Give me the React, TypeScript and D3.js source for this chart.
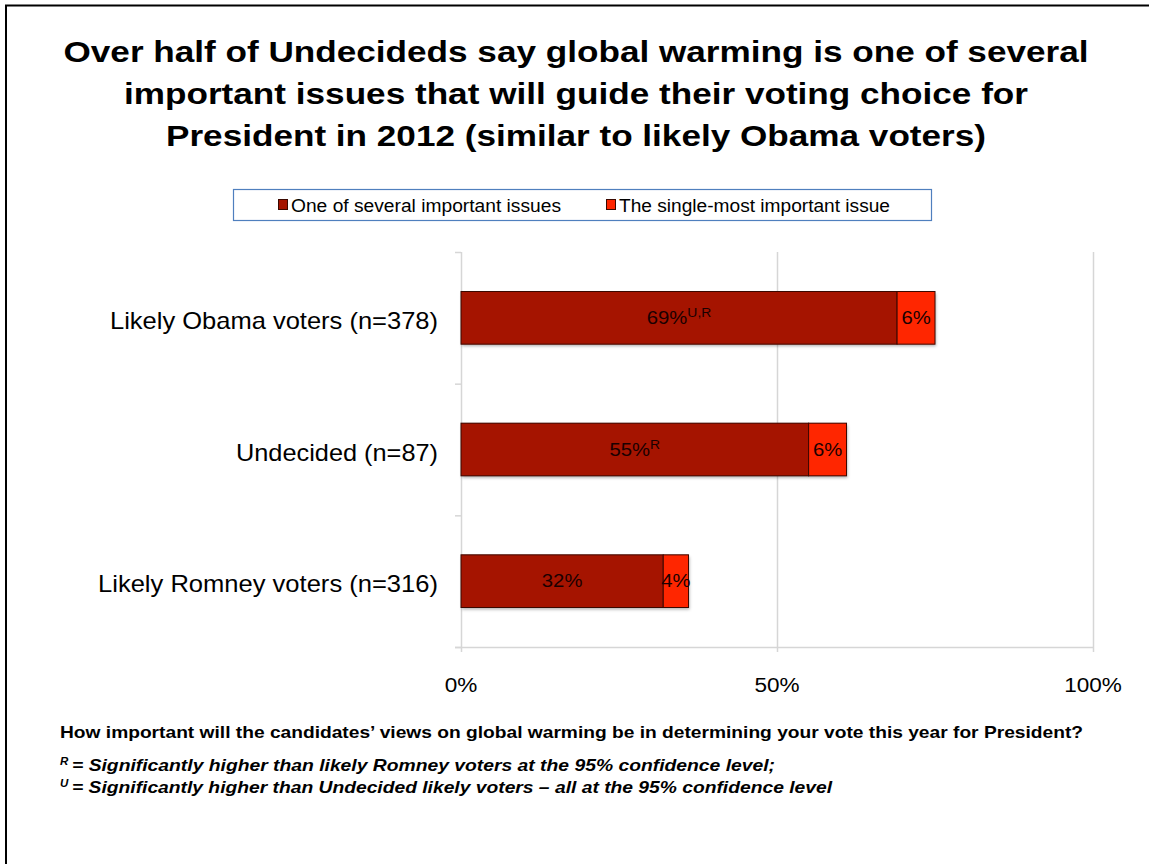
import React from "react";
import * as d3 from "d3";

const categories = ["Likely Obama voters (n=378)", "Undecided (n=87)", "Likely Romney voters (n=316)"];
const severalValues = [69, 55, 32];
const singleValues = [6, 6, 4];
const severalSup = ["U,R", "R", ""];
const seriesNames = ["One of several important issues", "The single-most important issue"];
const seriesColors = ["#A51400", "#FF2600"];
const xTicks = [0, 50, 100];
const titleLines = [
  "Over half of Undecideds say global warming is one of several",
  "important issues that will guide their voting choice for",
  "President in 2012 (similar to likely Obama voters)",
];
const questionText = "How important will the candidates\u2019 views on global warming be in determining your vote this year for President?";
const notes = [
  { sup: "R", text: "= Significantly higher than likely Romney voters at the 95% confidence level;" },
  { sup: "U", text: "= Significantly higher than Undecided likely voters \u2013 all at the 95% confidence level" },
];

const titleWidths = [1025, 904, 820];
const categoryWidths = [328, 202, 340];
const legendWidths = [270, 271];
const noteWidths = [703, 760];

export default function App() {
  const W = 1149, H = 864;
  const plotLeft = 461, plotRight = 1093, plotTop = 252, plotBottom = 647;
  const x = d3.scaleLinear().domain([0, 100]).range([plotLeft, plotRight]);
  const y = d3.scaleBand<string>().domain(categories).range([plotTop, plotBottom]).paddingInner(0.6).paddingOuter(0.3);
  const band = d3.scaleBand<string>().domain(categories).range([plotTop, plotBottom]);
  const font = "Arial, 'Liberation Sans', Helvetica, sans-serif";
  const SX = 1.16;

  return (
    <svg width={W} height={H} style={{ position: "absolute", left: 0, top: 0, background: "#fff" }} fontFamily={font}>
      <defs>
        <filter id="shadow" x="-5%" y="-20%" width="115%" height="160%">
          <feDropShadow dx="1" dy="2" stdDeviation="1.5" floodColor="#000" floodOpacity="0.3" />
        </filter>
      </defs>
      {/* page border */}
      <line x1={5} x2={1149} y1={5.5} y2={5.5} stroke="#000" strokeWidth={2} />
      <line x1={6} x2={6} y1={5} y2={864} stroke="#000" strokeWidth={2} />

      {/* title */}
      {titleLines.map((t, i) => (
        <text key={i} x={576} y={62 + i * 42} textAnchor="middle" fontSize={30} fontWeight="bold" fill="#000"
          textLength={titleWidths[i]} lengthAdjust="spacingAndGlyphs">{t}</text>
      ))}

      {/* legend */}
      <rect x={233.5} y={189.5} width={698} height={31} fill="#fff" stroke="#4F7FBE" strokeWidth={1.2} />
      {seriesNames.map((n, i) => {
        const lx = i === 0 ? 278 : 606;
        return (
          <g key={n}>
            <rect x={lx + 0.5} y={199.5} width={9} height={10} fill={seriesColors[i]} stroke="#3a0800" strokeWidth={1} />
            <text x={lx + 13} y={212} fontSize={17.5} fill="#000" textLength={legendWidths[i]} lengthAdjust="spacingAndGlyphs">{n}</text>
          </g>
        );
      })}

      {/* gridlines */}
      {xTicks.map((t) => (
        <line key={t} x1={x(t) + 0.5} x2={x(t) + 0.5} y1={plotTop} y2={plotBottom + 5} stroke="#d6d6d6" strokeWidth={1.5} />
      ))}
      {/* axis line */}
      <line x1={455} x2={plotRight + 1} y1={plotBottom + 0.5} y2={plotBottom + 0.5} stroke="#d6d6d6" strokeWidth={1.5} />
      {/* category ticks */}
      {[plotTop, ...categories.map((c) => (band(c) as number) + band.bandwidth())].map((v, i) => (
        <line key={i} x1={455} x2={plotLeft} y1={v + 0.5} y2={v + 0.5} stroke="#d6d6d6" strokeWidth={1.5} />
      ))}
      {xTicks.map((t) => (
        <text key={t} transform={`translate(${x(t)},${692}) scale(1.1,1)`} textAnchor="middle" fontSize={20.5} fill="#000">{t}%</text>
      ))}

      {/* bars */}
      {categories.map((c, i) => {
        const by = y(c) as number;
        const bh = y.bandwidth();
        const x0 = x(0), x1 = x(severalValues[i]), x2 = x(severalValues[i] + singleValues[i]);
        const cy = by + bh / 2 + 6;
        return (
          <g key={c}>
            <g filter="url(#shadow)">
              <rect x={x0} y={by} width={x2 - x0} height={bh} fill={seriesColors[1]} />
            </g>
            <rect x={x0} y={by} width={x1 - x0} height={bh} fill={seriesColors[0]} stroke="#3a0800" strokeWidth={1} />
            <rect x={x1} y={by} width={x2 - x1} height={bh} fill={seriesColors[1]} stroke="#3a0800" strokeWidth={1} />
            <text transform={`translate(${(x0 + x1) / 2},${cy}) scale(${SX},1)`} textAnchor="middle" fontSize={17.5} fill="#1a0000">
              {severalValues[i]}%
              {severalSup[i] && <tspan fontSize={12} dy={-7}>{severalSup[i]}</tspan>}
            </text>
            <text transform={`translate(${(x1 + x2) / 2},${cy}) scale(${SX},1)`} textAnchor="middle" fontSize={17.5} fill="#1a0000">{singleValues[i]}%</text>
            <text x={438} y={(band(c) as number) + band.bandwidth() / 2 + 11} textAnchor="end" fontSize={24} fill="#000"
              textLength={categoryWidths[i]} lengthAdjust="spacingAndGlyphs">{c}</text>
          </g>
        );
      })}

      {/* footer */}
      <text x={60} y={738} fontSize={17} fontWeight="bold" fill="#000" textLength={1023} lengthAdjust="spacingAndGlyphs">{questionText}</text>
      {notes.map((n, i) => (
        <g key={i}>
          <text x={60} y={765 + i * 22} fontSize={11.5} fontWeight="bold" fontStyle="italic" fill="#000">{n.sup}</text>
          <text x={72} y={771 + i * 22} fontSize={16.5} fontWeight="bold" fontStyle="italic" fill="#000"
            textLength={noteWidths[i]} lengthAdjust="spacingAndGlyphs">{n.text}</text>
        </g>
      ))}
    </svg>
  );
}
